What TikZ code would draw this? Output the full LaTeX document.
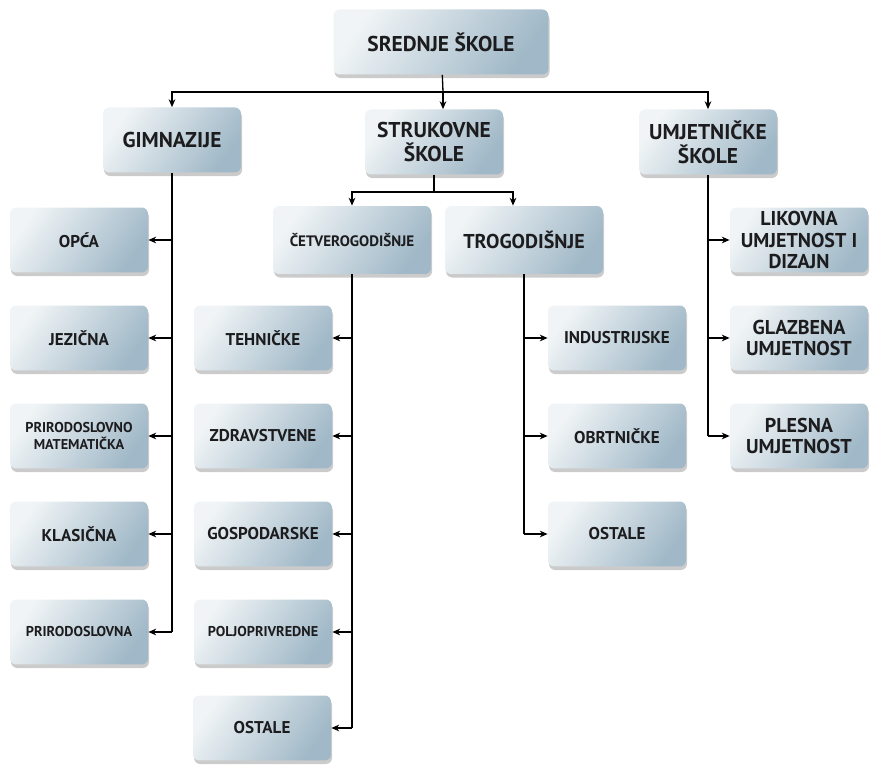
\documentclass[tikz,border=0pt]{standalone}
\usepackage{fontspec}
\setmainfont{PT Sans}
\usetikzlibrary{arrows.meta,shadows}

\definecolor{boxlight}{RGB}{240,244,246}
\definecolor{boxdark}{RGB}{160,184,199}
\definecolor{txt}{RGB}{28,28,30}

\newcommand{\bigf}{\fontsize{12.2}{13.5}\selectfont\bfseries}
\newcommand{\artf}{\fontsize{11.4}{12.2}\selectfont\bfseries}
\newcommand{\midf}{\fontsize{9.7}{11}\selectfont\bfseries}
\newcommand{\smallf}{\fontsize{8.1}{10}\selectfont\bfseries}

\tikzset{
    box/.style={rectangle, rounded corners=3.5pt, align=center, text=txt,
        minimum width=2.76cm, minimum height=1.3cm, inner sep=2pt,
        top color=boxlight, bottom color=boxdark, shading angle=55,
        drop shadow={shadow xshift=0.6pt, shadow yshift=-2pt, fill=black!45, opacity=0.45}},
    widebox/.style={box, minimum width=3.16cm, minimum height=1.36cm},
    line/.style={draw=black, line width=0.75pt},
    arr/.style={line, -{Stealth[length=4.5pt, width=3.8pt]}},
}

\begin{document}
\begin{tikzpicture}[x=0.02cm, y=-0.02cm]
    \useasboundingbox (0,0) rectangle (870,766);

    % top level
    \node[box, minimum width=4.3cm, font=\bigf] (srednje) at (441,42) {SREDNJE ŠKOLE};

    \node[box, font=\bigf] (gimn) at (172,140) {GIMNAZIJE};
    \node[box, font=\bigf] (strukovne) at (434,142) {STRUKOVNE\\ŠKOLE};
    \node[box, font=\bigf] (umjet) at (708,142) {UMJETNIČKE\\ŠKOLE};

    % gimnazije
    \node[box, font=\midf] (opca) at (79,240) {OPĆA};
    \node[box, font=\midf] (jezicna) at (79,338) {JEZIČNA};
    \node[box, font=\smallf] (primat) at (79,436) {PRIRODOSLOVNO\\MATEMATIČKA};
    \node[box, font=\midf] (klasicna) at (79,534) {KLASIČNA};
    \node[box, font=\smallf] (prirod) at (79,632) {PRIRODOSLOVNA};

    % strukovne
    \node[widebox, font=\fontsize{8.6}{10}\selectfont\bfseries] (cetvero) at (352,240) {ČETVEROGODIŠNJE};
    \node[widebox, font=\artf] (trogo) at (524,240) {TROGODIŠNJE};

    \node[box, font=\midf] (tehnicke) at (263,338) {TEHNIČKE};
    \node[box, font=\midf] (zdrav) at (263,436) {ZDRAVSTVENE};
    \node[box, font=\midf] (gosp) at (263,534) {GOSPODARSKE};
    \node[box, font=\smallf] (polj) at (263,632) {POLJOPRIVREDNE};
    \node[box, font=\midf] (ostaleA) at (262,728) {OSTALE};

    \node[box, font=\midf] (indus) at (617,338) {INDUSTRIJSKE};
    \node[box, font=\midf] (obrt) at (617,436) {OBRTNIČKE};
    \node[box, font=\midf] (ostaleB) at (617,534) {OSTALE};

    % umjetnicke
    \node[box, font=\artf] (likovna) at (799,240) {LIKOVNA\\UMJETNOST I\\DIZAJN};
    \node[box, font=\artf] (glazb) at (799,338) {GLAZBENA\\UMJETNOST};
    \node[box, font=\artf] (plesna) at (799,436) {PLESNA\\UMJETNOST};

    % connectors
    \coordinate (hub1) at (443,92);
    \coordinate (hub2) at (434,192);

    \draw[line] (srednje) -- (hub1);
    \draw[arr] (hub1) -| (gimn);
    \draw[arr] (hub1) -- (hub1 |- strukovne.north);
    \draw[arr] (hub1) -| (umjet);

    \draw[line] (gimn) -- (gimn |- prirod);
    \foreach \n in {opca,jezicna,primat,klasicna,prirod}
        \draw[arr] (gimn |- \n) -- (\n);

    \draw[line] (strukovne) -- (hub2);
    \draw[arr] (hub2) -| (cetvero);
    \draw[arr] (hub2) -| ([xshift=-0.22cm]trogo.north);

    \draw[line] (cetvero) -- (cetvero |- ostaleA);
    \foreach \n in {tehnicke,zdrav,gosp,polj,ostaleA}
        \draw[arr] (cetvero |- \n) -- (\n);

    \draw[line] (trogo) -- (trogo |- ostaleB);
    \foreach \n in {indus,obrt,ostaleB}
        \draw[arr] (trogo |- \n) -- (\n);

    \draw[line] (umjet) -- (umjet |- plesna);
    \foreach \n in {likovna,glazb,plesna}
        \draw[arr] (umjet |- \n) -- (\n);
\end{tikzpicture}
\end{document}
